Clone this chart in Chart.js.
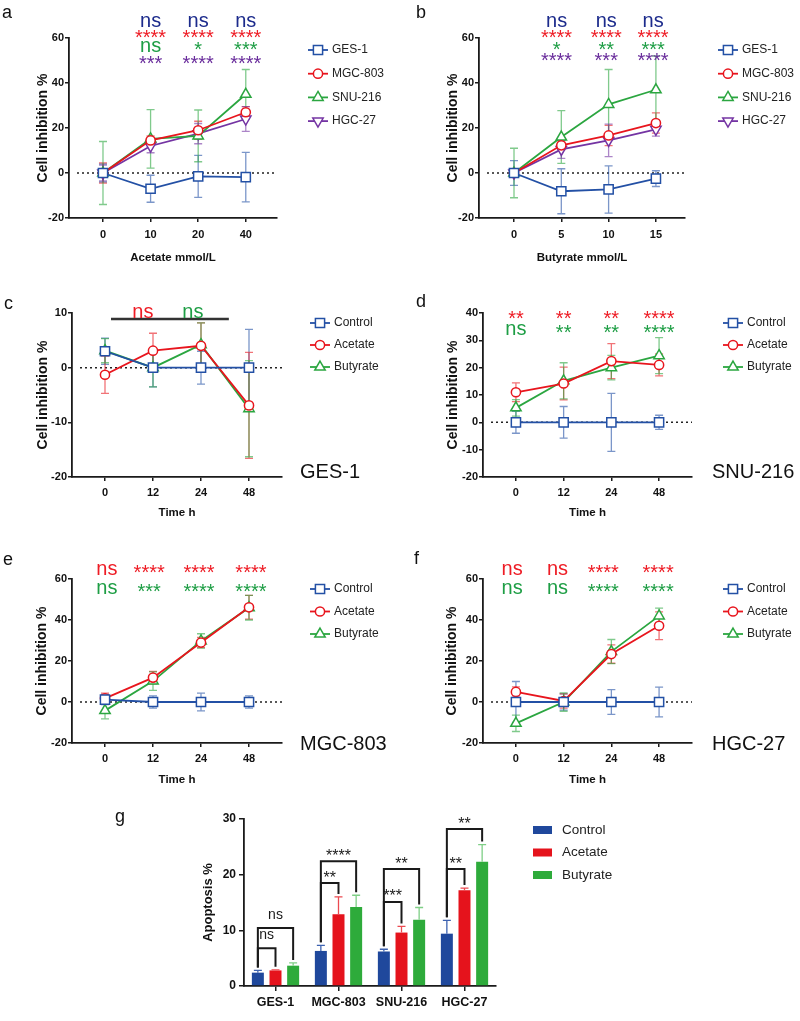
<!DOCTYPE html>
<html>
<head>
<meta charset="utf-8">
<script src="https://cdn.jsdelivr.net/npm/chart.js@4.4.1/dist/chart.umd.min.js"></script>
<style>
  body { margin: 0; background: #fff; width: 800px; height: 1021px; position: relative; overflow: hidden; font-family: "Liberation Sans", Arial, sans-serif; }
  canvas { position: absolute; }
  .lab { position: absolute; font-size: 18px; line-height: 1; color: #111; }
  .cell { position: absolute; font-size: 20px; line-height: 1; color: #111; }
</style>
</head>
<body>
<canvas id="pa"></canvas>
<canvas id="pb"></canvas>
<canvas id="pc"></canvas>
<canvas id="pd"></canvas>
<canvas id="pe"></canvas>
<canvas id="pf"></canvas>
<canvas id="pg"></canvas>

<div class="lab" style="left:2px;top:3px">a</div>
<div class="lab" style="left:416px;top:3px">b</div>
<div class="lab" style="left:4px;top:294px">c</div>
<div class="lab" style="left:416px;top:292px">d</div>
<div class="lab" style="left:3px;top:550px">e</div>
<div class="lab" style="left:414px;top:549px">f</div>
<div class="lab" style="left:115px;top:807px">g</div>

<div class="cell" style="left:300px;top:461px">GES-1</div>
<div class="cell" style="left:712px;top:461px">SNU-216</div>
<div class="cell" style="left:300px;top:733px">MGC-803</div>
<div class="cell" style="left:712px;top:733px">HGC-27</div>

<script>
// ---- data ----
// a: acetate dose response
const acetateDose = ["0", "10", "20", "40"];
const aGES = [0, -7, -1.5, -1.8];
const aGESErr = [4, 6, 9.3, 11];
const aMGC = [0, 14.5, 19, 27];
const aMGCErr = [4.5, 2, 4, 2.5];
const aSNU = [0, 15.2, 16.5, 35];
const aSNUErr = [14, 13, 11.5, 11];
const aHGC = [0, 12, 17.5, 24];
const aHGCErr = [3.5, 3, 4.5, 5.5];
const aSigGES = ["ns", "ns", "ns"];
const aSigMGC = ["****", "****", "****"];
const aSigSNU = ["ns", "*", "***"];
const aSigHGC = ["***", "****", "****"];

// b: butyrate dose response
const butyrateDose = ["0", "5", "10", "15"];
const bGES = [0, -8.1, -7.3, -2.5];
const bGESErr = [5.5, 10, 10.5, 3.5];
const bMGC = [0, 12.3, 16.7, 22.2];
const bMGCErr = [1.5, 2, 4.5, 4.5];
const bSNU = [0, 16, 30.5, 37];
const bSNUErr = [11, 11.7, 15.5, 15];
const bHGC = [0, 10.5, 14.5, 19.4];
const bHGCErr = [1.5, 4, 7.2, 3];
const bSigGES = ["ns", "ns", "ns"];
const bSigMGC = ["****", "****", "****"];
const bSigSNU = ["*", "**", "***"];
const bSigHGC = ["****", "***", "****"];

// c-f: time course
const timeH = ["0", "12", "24", "48"];
const cCtrl = [3, 0, 0, 0];
const cCtrlErr = [2.4, 3.5, 3, 7];
const cAce = [-1.3, 3.1, 4, -6.9];
const cAceErr = [3.4, 3.2, 4.2, 9.7];
const cBut = [3.1, 0, 4.2, -7.5];
const cButErr = [2.2, 3.5, 4, 8.8];
const cSigAce = ["ns"];
const cSigBut = ["ns"];

const dCtrl = [0, 0, 0, 0];
const dCtrlErr = [4, 5.8, 10.6, 2.6];
const dAce = [11, 14.2, 22.4, 21];
const dAceErr = [3.4, 6, 6.4, 4];
const dBut = [5.3, 15.2, 20, 24.4];
const dButErr = [3, 6.6, 4.5, 6.6];
const dSigAce = ["**", "**", "**", "****"];
const dSigBut = ["ns", "**", "**", "****"];

const eCtrl = [1.2, 0, 0, 0];
const eCtrlErr = [2.5, 3, 4.3, 3];
const eAce = [1.8, 11.9, 29, 46.2];
const eAceErr = [2.5, 3, 2.5, 5.8];
const eBut = [-4.2, 10.2, 29.8, 46];
const eButErr = [4, 4.5, 3.5, 6];
const eSigAce = ["ns", "****", "****", "****"];
const eSigBut = ["ns", "***", "****", "****"];

const fCtrl = [0, 0, 0, 0];
const fCtrlErr = [10, 4, 6, 7.3];
const fAce = [4.9, 0.5, 23.4, 37.2];
const fAceErr = [2.5, 3.5, 4.5, 6.8];
const fBut = [-10.4, 0, 24.6, 42];
const fButErr = [4, 4.5, 5.9, 3.8];
const fSigAce = ["ns", "ns", "****", "****"];
const fSigBut = ["ns", "ns", "****", "****"];

// g: apoptosis
const cellLines = ["GES-1", "MGC-803", "SNU-216", "HGC-27"];
const apoControl = [2.4, 6.3, 6.2, 9.4];
const apoControlErr = [0.4, 1, 0.4, 2.4];
const apoAcetate = [2.8, 12.9, 9.6, 17.2];
const apoAcetateErr = [0.1, 3.1, 1.1, 0.4];
const apoButyrate = [3.65, 14.2, 11.9, 22.3];
const apoButyrateErr = [0.5, 2.1, 2.2, 3.1];
const gSigAcetate = ["ns", "**", "***", "**"];
const gSigButyrate = ["ns", "****", "**", "**"];

// ---- styles ----
const FF = '"Liberation Sans", Arial, sans-serif';
const BLUE = "#2350a5", RED = "#e8151d", GREEN = "#2ba640", PURPLE = "#7434a3";
const NAVY = "#1c2b8c", S_RED = "#ee1c25", S_GREEN = "#1e9e45", S_PURPLE = "#6a2d9c";
const BAR_BLUE = "#1f489c", BAR_RED = "#e5131c", BAR_GREEN = "#2eab3b";

function alpha(hex, a) {
  const n = parseInt(hex.slice(1), 16);
  return `rgba(${n >> 16},${(n >> 8) & 255},${n & 255},${a})`;
}

const axisGrid = { drawOnChartArea: false, drawTicks: true, tickLength: 4, color: "#1a1a1a", lineWidth: 1.5 };
const axisBorder = { color: "#1a1a1a", width: 1.8 };
const tickFont = { family: FF, size: 11, weight: "bold" };

function drawMarker(ctx, style, x, y, r, rot, color) {
  ctx.save();
  ctx.beginPath();
  if (style === "rect") {
    const s = r * Math.SQRT1_2;
    ctx.rect(x - s, y - s, 2 * s, 2 * s);
  } else if (style === "triangle") {
    let a = (rot || 0) * Math.PI / 180;
    ctx.moveTo(x + Math.sin(a) * r, y - Math.cos(a) * r);
    for (let k = 0; k < 2; k++) {
      a += 2 * Math.PI / 3;
      ctx.lineTo(x + Math.sin(a) * r, y - Math.cos(a) * r);
    }
    ctx.closePath();
  } else {
    ctx.arc(x, y, r, 0, 2 * Math.PI);
  }
  ctx.fillStyle = "#fff";
  ctx.fill();
  ctx.lineWidth = 1.5;
  ctx.strokeStyle = color;
  ctx.stroke();
  ctx.restore();
}

// centred significance text ("ns" sits on x-height, stars sit high)
function sigText(ctx, t, x, cy, size) {
  const star = t.indexOf("*") >= 0;
  ctx.font = size + "px " + FF;
  ctx.textAlign = "center";
  ctx.textBaseline = "alphabetic";
  ctx.fillText(t, x, cy + (star ? 0.47 : 0.26) * size);
}

// ---- plugins ----
function drawErrors(chart) {
  const ctx = chart.ctx, ys = chart.scales.y;
  chart.data.datasets.forEach((ds, i) => {
    if (!ds.errors) return;
    const meta = chart.getDatasetMeta(i);
    ctx.save();
    ctx.strokeStyle = ds.errorColor;
    ctx.lineWidth = 1.3;
    meta.data.forEach((el, j) => {
      const d = ds.data[j];
      const v = typeof d === "object" ? d.y : d;
      const e = ds.errors[j];
      const top = ys.getPixelForValue(v + e);
      const bot = ds.upOnly ? ys.getPixelForValue(v) : ys.getPixelForValue(v - e);
      ctx.beginPath();
      ctx.moveTo(el.x, top); ctx.lineTo(el.x, bot);
      ctx.moveTo(el.x - 4, top); ctx.lineTo(el.x + 4, top);
      if (!ds.upOnly) { ctx.moveTo(el.x - 4, bot); ctx.lineTo(el.x + 4, bot); }
      ctx.stroke();
    });
    ctx.restore();
  });
}

const errorBars = {
  id: "errorBars",
  beforeDatasetsDraw(chart) { if (chart.config.type === "line") drawErrors(chart); },
  afterDatasetsDraw(chart) { if (chart.config.type === "bar") drawErrors(chart); }
};

const zeroLine = {
  id: "zeroLine",
  beforeDatasetsDraw(chart) {
    const { ctx, chartArea, scales: { y } } = chart;
    const py = y.getPixelForValue(0);
    ctx.save();
    ctx.setLineDash([2, 3]);
    ctx.lineWidth = 1.5;
    ctx.strokeStyle = "#222";
    ctx.beginPath();
    ctx.moveTo(chartArea.left + 8, py);
    ctx.lineTo(chartArea.right, py);
    ctx.stroke();
    ctx.restore();
  }
};

const sigMarks = {
  id: "sigMarks",
  afterDraw(chart, args, o) {
    const ctx = chart.ctx, xs = chart.scales.x;
    ctx.save();
    if (o.bar) {
      ctx.strokeStyle = "#333";
      ctx.lineWidth = 2.5;
      ctx.beginPath();
      ctx.moveTo(xs.getPixelForValue(o.bar.from), o.bar.y - o.oy);
      ctx.lineTo(xs.getPixelForValue(o.bar.to), o.bar.y - o.oy);
      ctx.stroke();
    }
    (o.rows || []).forEach(row => {
      ctx.fillStyle = row.color;
      row.labels.forEach((t, k) => sigText(ctx, t, xs.getPixelForValue(row.at[k]), row.y - o.oy, 20));
    });
    ctx.restore();
  }
};

const sideLegend = {
  id: "sideLegend",
  afterDraw(chart, args, o) {
    const ctx = chart.ctx;
    chart.data.datasets.forEach((ds, i) => {
      const y = o.y + i * o.dy;
      ctx.save();
      ctx.strokeStyle = ds.borderColor;
      ctx.lineWidth = 1.8;
      ctx.beginPath();
      ctx.moveTo(o.x - 10, y); ctx.lineTo(o.x + 10, y);
      ctx.stroke();
      drawMarker(ctx, ds.pointStyle, o.x, y, ds.pointRadius, ds.pointRotation, ds.borderColor);
      ctx.fillStyle = "#222";
      ctx.font = "12px " + FF;
      ctx.textAlign = "left";
      ctx.textBaseline = "middle";
      ctx.fillText(ds.label, o.x + 14, y);
      ctx.restore();
    });
  }
};

function series(name, values, errors, color, marker, r, rot) {
  return {
    label: name,
    data: values.map((v, i) => ({ x: i, y: v })),
    errors: errors,
    errorColor: alpha(color, 0.6),
    borderColor: color,
    borderWidth: 1.8,
    pointStyle: marker,
    pointRadius: r,
    pointRotation: rot || 0,
    pointBorderWidth: 1.5,
    pointBorderColor: color,
    pointBackgroundColor: "#fff",
    tension: 0,
    fill: false
  };
}

// p: box (canvas on page), plot (axis box on page), x range, y range ...
function makeLine(p) {
  const cv = document.getElementById(p.id);
  cv.width = p.box.w; cv.height = p.box.h;
  cv.style.left = p.box.x + "px"; cv.style.top = p.box.y + "px";
  const yW = p.plot.l - p.box.x;
  const xH = p.box.y + p.box.h - p.plot.b;
  return new Chart(cv, {
    type: "line",
    data: { datasets: p.sets },
    options: {
      responsive: false,
      animation: false,
      events: [],
      layout: { padding: { left: 0, top: p.plot.t - p.box.y, right: p.box.x + p.box.w - p.plot.r, bottom: 0 } },
      plugins: {
        legend: { display: false },
        tooltip: { enabled: false },
        sigMarks: { rows: p.rows, bar: p.bar, oy: p.box.y },
        sideLegend: { x: p.leg.x - p.box.x, y: p.leg.y - p.box.y, dy: p.leg.dy }
      },
      scales: {
        x: {
          type: "linear",
          min: p.xMin, max: p.xMax,
          afterFit: s => { s.height = xH; },
          afterBuildTicks: s => { s.ticks = p.xLabels.map((_, i) => ({ value: i })); },
          ticks: { callback: v => p.xLabels[v], font: tickFont, color: "#111", padding: p.xTickPad, maxRotation: 0, autoSkip: false },
          grid: axisGrid,
          border: axisBorder,
          title: { display: true, text: p.xTitle, color: "#111", font: { family: FF, size: 11.5, weight: "bold" }, padding: { top: 0, bottom: p.xTitlePad } }
        },
        y: {
          min: p.yMin, max: p.yMax,
          afterFit: s => { s.width = yW; },
          ticks: { stepSize: p.yStep, font: tickFont, color: "#111", padding: 1 },
          grid: axisGrid,
          border: axisBorder,
          title: { display: true, text: "Cell inhibition %", color: "#111", font: { family: FF, size: 14, weight: "bold" }, padding: { top: p.yTitleX - p.box.x - 8.4, bottom: 0 } }
        }
      }
    },
    plugins: [zeroLine, errorBars, sigMarks, sideLegend]
  });
}

function row(color, y, labels, at) { return { color, y, labels, at }; }

// a
makeLine({
  id: "pa", box: { x: 0, y: 0, w: 400, h: 270 }, plot: { l: 69, r: 277, t: 38, b: 218 },
  xLabels: acetateDose, xMin: -0.714, xMax: 3.656, xTickPad: 6.4, xTitle: "Acetate mmol/L", xTitlePad: 5,
  yMin: -20, yMax: 60, yStep: 20, yTitleX: 43,
  sets: [
    series("GES-1", aGES, aGESErr, BLUE, "rect", 6.5),
    series("MGC-803", aMGC, aMGCErr, RED, "circle", 4.6),
    series("SNU-216", aSNU, aSNUErr, GREEN, "triangle", 6),
    series("HGC-27", aHGC, aHGCErr, PURPLE, "triangle", 6, 180)
  ],
  rows: [
    row(NAVY, 22, aSigGES, [1, 2, 3]),
    row(S_RED, 34.5, aSigMGC, [1, 2, 3]),
    row(S_GREEN, 47, aSigSNU, [1, 2, 3]),
    row(S_PURPLE, 61, aSigHGC, [1, 2, 3])
  ],
  leg: { x: 318, y: 50, dy: 23.7 }
});

// b
makeLine({
  id: "pb", box: { x: 400, y: 0, w: 400, h: 270 }, plot: { l: 479, r: 685, t: 38, b: 218 },
  xLabels: butyrateDose, xMin: -0.74, xMax: 3.615, xTickPad: 6.4, xTitle: "Butyrate mmol/L", xTitlePad: 5,
  yMin: -20, yMax: 60, yStep: 20, yTitleX: 453,
  sets: [
    series("GES-1", bGES, bGESErr, BLUE, "rect", 6.5),
    series("MGC-803", bMGC, bMGCErr, RED, "circle", 4.6),
    series("SNU-216", bSNU, bSNUErr, GREEN, "triangle", 6),
    series("HGC-27", bHGC, bHGCErr, PURPLE, "triangle", 6, 180)
  ],
  rows: [
    row(NAVY, 22, bSigGES, [0.9, 1.95, 2.94]),
    row(S_RED, 34.5, bSigMGC, [0.9, 1.95, 2.94]),
    row(S_GREEN, 47, bSigSNU, [0.9, 1.95, 2.94]),
    row(S_PURPLE, 57.5, bSigHGC, [0.9, 1.95, 2.94])
  ],
  leg: { x: 728, y: 50, dy: 23.7 }
});

function timeSets(ctrl, ctrlErr, ace, aceErr, but, butErr) {
  return [
    series("Control", ctrl, ctrlErr, BLUE, "rect", 6.5),
    series("Acetate", ace, aceErr, RED, "circle", 4.6),
    series("Butyrate", but, butErr, GREEN, "triangle", 6)
  ];
}

// c
makeLine({
  id: "pc", box: { x: 0, y: 275, w: 400, h: 250 }, plot: { l: 72, r: 282, t: 313, b: 477 },
  xLabels: timeH, xMin: -0.6875, xMax: 3.6875, xTickPad: 5.4, xTitle: "Time h", xTitlePad: 5,
  yMin: -20, yMax: 10, yStep: 10, yTitleX: 43,
  sets: timeSets(cCtrl, cCtrlErr, cAce, cAceErr, cBut, cButErr),
  rows: [row(S_RED, 312.5, cSigAce, [0.79]), row(S_GREEN, 312.5, cSigBut, [1.83])],
  bar: { from: 0.125, to: 2.58, y: 319 },
  leg: { x: 320, y: 323, dy: 22 }
});

// d
makeLine({
  id: "pd", box: { x: 400, y: 275, w: 400, h: 250 }, plot: { l: 483, r: 692, t: 313, b: 477 },
  xLabels: timeH, xMin: -0.69, xMax: 3.69, xTickPad: 5.4, xTitle: "Time h", xTitlePad: 5,
  yMin: -20, yMax: 40, yStep: 10, yTitleX: 453,
  sets: timeSets(dCtrl, dCtrlErr, dAce, dAceErr, dBut, dButErr),
  rows: [row(S_RED, 316, dSigAce, [0, 1, 2, 3]), row(S_GREEN, 330, dSigBut, [0, 1, 2, 3])],
  leg: { x: 733, y: 323, dy: 22 }
});

// e
makeLine({
  id: "pe", box: { x: 0, y: 540, w: 400, h: 250 }, plot: { l: 72, r: 282, t: 579, b: 743 },
  xLabels: timeH, xMin: -0.6875, xMax: 3.6875, xTickPad: 5.4, xTitle: "Time h", xTitlePad: 3,
  yMin: -20, yMax: 60, yStep: 20, yTitleX: 42,
  sets: timeSets(eCtrl, eCtrlErr, eAce, eAceErr, eBut, eButErr),
  rows: [row(S_RED, 569.5, eSigAce, [0.04, 0.92, 1.96, 3.04]), row(S_GREEN, 589, eSigBut, [0.04, 0.92, 1.96, 3.04])],
  leg: { x: 320, y: 589, dy: 22.5 }
});

// f
makeLine({
  id: "pf", box: { x: 400, y: 540, w: 400, h: 250 }, plot: { l: 483, r: 692, t: 579, b: 743 },
  xLabels: timeH, xMin: -0.69, xMax: 3.69, xTickPad: 5.4, xTitle: "Time h", xTitlePad: 3,
  yMin: -20, yMax: 60, yStep: 20, yTitleX: 452,
  sets: timeSets(fCtrl, fCtrlErr, fAce, fAceErr, fBut, fButErr),
  rows: [row(S_RED, 569.5, fSigAce, [-0.08, 0.87, 1.83, 2.98]), row(S_GREEN, 589, fSigBut, [-0.08, 0.87, 1.83, 2.98])],
  leg: { x: 733, y: 589, dy: 22.5 }
});

// g: bars with comparison brackets
const brackets = {
  id: "brackets",
  afterDatasetsDraw(chart, args, o) {
    const ctx = chart.ctx, ys = chart.scales.y;
    const ds = chart.data.datasets;
    ctx.save();
    o.items.forEach(b => {
      const x1 = chart.getDatasetMeta(b.from).data[b.group].x;
      const x2 = chart.getDatasetMeta(b.to).data[b.group].x;
      const yT = ys.getPixelForValue(b.y);
      const y1 = ys.getPixelForValue(ds[b.from].data[b.group] + ds[b.from].errors[b.group]) - 3;
      const y2 = ys.getPixelForValue(ds[b.to].data[b.group] + ds[b.to].errors[b.group]) - 3;
      ctx.strokeStyle = "#1a1a1a";
      ctx.lineWidth = 2;
      ctx.beginPath();
      ctx.moveTo(x1, y1); ctx.lineTo(x1, yT); ctx.lineTo(x2, yT); ctx.lineTo(x2, y2);
      ctx.stroke();
      ctx.fillStyle = "#1a1a1a";
      const cx = (x1 + x2) / 2;
      if (b.label === "ns") sigText(ctx, b.label, cx, yT - 13, 14);
      else sigText(ctx, b.label, cx, yT - 8, 16);
    });
    ctx.restore();
  }
};

const boxLegend = {
  id: "boxLegend",
  afterDraw(chart, args, o) {
    const ctx = chart.ctx;
    chart.data.datasets.forEach((ds, i) => {
      const y = o.y + i * o.dy;
      ctx.fillStyle = ds.backgroundColor;
      ctx.fillRect(o.x, y - 4, 19, 8);
      ctx.fillStyle = "#222";
      ctx.font = "13.5px " + FF;
      ctx.textAlign = "left";
      ctx.textBaseline = "middle";
      ctx.fillText(ds.label, o.x + 29, y);
    });
  }
};

(function () {
  const box = { x: 100, y: 795, w: 520, h: 226 };
  const plot = { l: 244, r: 496, t: 819, b: 986 };
  const cv = document.getElementById("pg");
  cv.width = box.w; cv.height = box.h;
  cv.style.left = box.x + "px"; cv.style.top = box.y + "px";
  const shortTop = [6.8, 18.5, 15.1, 21];
  const longTop = [10.4, 22.4, 21, 28.2];
  const items = [];
  cellLines.forEach((_, g) => {
    items.push({ group: g, from: 0, to: 1, y: shortTop[g], label: gSigAcetate[g] });
    items.push({ group: g, from: 0, to: 2, y: longTop[g], label: gSigButyrate[g] });
  });
  new Chart(cv, {
    type: "bar",
    data: {
      labels: cellLines,
      datasets: [
        { label: "Control", data: apoControl, errors: apoControlErr, upOnly: true, backgroundColor: BAR_BLUE, errorColor: "#3d62b0" },
        { label: "Acetate", data: apoAcetate, errors: apoAcetateErr, upOnly: true, backgroundColor: BAR_RED, errorColor: "#ec4a50" },
        { label: "Butyrate", data: apoButyrate, errors: apoButyrateErr, upOnly: true, backgroundColor: BAR_GREEN, errorColor: "#7fcf86" }
      ]
    },
    options: {
      responsive: false,
      animation: false,
      events: [],
      datasets: { bar: { categoryPercentage: 0.84, barPercentage: 0.68 } },
      layout: { padding: { left: 0, top: plot.t - box.y, right: box.x + box.w - plot.r, bottom: 0 } },
      plugins: {
        legend: { display: false },
        tooltip: { enabled: false },
        brackets: { items },
        boxLegend: { x: 533 - box.x, y: 830 - box.y, dy: 22.5 }
      },
      scales: {
        x: {
          offset: true,
          afterFit: s => { s.height = box.y + box.h - plot.b; },
          ticks: { font: { family: FF, size: 12.5, weight: "bold" }, color: "#111", padding: 4, maxRotation: 0, autoSkip: false },
          grid: { offset: false, drawOnChartArea: false, drawTicks: true, tickLength: 5, color: "#1a1a1a", lineWidth: 1.5 },
          border: axisBorder
        },
        y: {
          min: 0, max: 30,
          afterFit: s => { s.width = plot.l - box.x; },
          ticks: { stepSize: 10, font: { family: FF, size: 12, weight: "bold" }, color: "#111", padding: 3 },
          grid: { drawOnChartArea: false, drawTicks: true, tickLength: 5, color: "#1a1a1a", lineWidth: 1.5 },
          border: axisBorder,
          title: { display: true, text: "Apoptosis %", color: "#111", font: { family: FF, size: 13, weight: "bold" }, padding: { top: 208 - box.x - 7.8, bottom: 0 } }
        }
      }
    },
    plugins: [errorBars, brackets, boxLegend]
  });
})();
</script>
</body>
</html>
